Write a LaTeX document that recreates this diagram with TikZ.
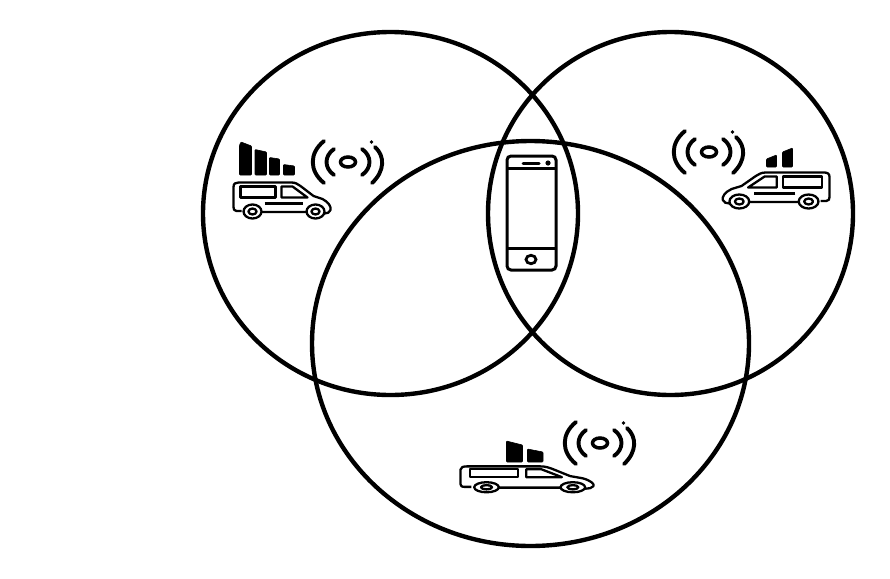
\documentclass[tikz,border=0pt]{standalone}
\tikzset{
  ring/.style={draw=black,line width=4.4pt},
  wave/.style={draw=black,line width=3.9pt,line cap=round},
  bar/.style={fill=black,draw=black,line width=.6pt,rounded corners=.8pt},
  vanline/.style={draw=black,line width=2.3pt,line join=round},
  phoneline/.style={draw=black,line width=3pt},
  signal/.pic={
    \draw[line width=3.5pt] (0,0) ellipse (7.5pt and 5pt);
    \draw[wave] (-14,-13) .. controls (-24,-6) and (-24,6) .. (-14,13);
    \draw[wave] (14,-13) .. controls (24,-6) and (24,6) .. (14,13);
    \draw[wave] (-24,-21) .. controls (-39,-9) and (-39,9) .. (-24,21);
    \draw[wave] (27,-15) .. controls (37,-6) and (37,9) .. (24,21);
    \fill (23.5,-20) circle (1.9pt);
  },
  van/.pic={
    \draw[vanline] (8,29) -- (3,29) .. controls (0.5,29) and (0,27) .. (0,25)
      -- (0,5) .. controls (0,1.5) and (2,0.5) .. (5,0.5) -- (58,0.5)
      .. controls (62,0.5) and (64,2) .. (67,4) -- (80,14) -- (89,17)
      .. controls (95,20) and (98,25) .. (97,28) .. controls (96,31) and (94,31) .. (91,31.5)
      (73,30) -- (28,30);
    \draw[vanline] (7,4.5) rectangle (42,15.5);
    \draw[vanline] (48,4.5) -- (59,4.5) -- (74,15.5) -- (48,15.5) -- cycle;
    \draw[vanline] (19,29.5) circle[x radius=9,y radius=7];
    \draw[vanline] (19,29.5) circle[x radius=4,y radius=3];
    \draw[vanline] (82,29.5) circle[x radius=9,y radius=7];
    \draw[vanline] (82,29.5) circle[x radius=4,y radius=3];
  },
  vanmid/.pic={
    \draw[vanline] (31,21.5) -- (69,21.5);
  }
}
\begin{document}
\begin{tikzpicture}[x=1pt,y=-1pt]
\useasboundingbox (0,0) rectangle (890,578);
\fill[white] (0,0) rectangle (890,578);
% coverage circles
\draw[ring] (390.5,213.5) ellipse (187.5pt and 181.5pt);
\draw[ring] (670.5,213.5) ellipse (182.5pt and 181.5pt);
\draw[ring] (530.5,343.5) ellipse (218.5pt and 202.5pt);
% phone
\draw[phoneline,rounded corners=4pt] (507,156) rectangle (556,270);
\draw[phoneline] (507,168.5) -- (556,168.5) (507,248) -- (556,248);
\draw[line width=3pt,line cap=round] (523,163) -- (539,163);
\fill (548,163) circle (2.6pt);
\draw[line width=2.8pt] (531,259.5) ellipse (5pt and 4.2pt);
% left van
\pic at (348,162) {signal};
\pic at (233.5,182) {van};
\pic at (233.5,182) {vanmid};
\fill[bar] (239.5,145) -- (241,142) -- (251.5,146) -- (251.5,175) -- (239.5,175) -- cycle;
\fill[bar] (255,149.5) -- (266.5,152) -- (266.5,175) -- (255,175) -- cycle;
\fill[bar] (269.5,157.5) -- (279.5,159) -- (279.5,175) -- (269.5,175) -- cycle;
\fill[bar] (283.5,164.5) -- (294.5,166) -- (294.5,175) -- (283.5,175) -- cycle;
% right van
\pic at (709,152) {signal};
\pic[xscale=-1.1,yscale=1] at (829.5,172) {van};
\pic[xscale=-1.1,yscale=1] at (829.5,172) {vanmid};
\fill[bar] (766.5,159) -- (776.5,155) -- (776.5,167) -- (766.5,167) -- cycle;
\fill[bar] (782.5,152) -- (792.5,148) -- (792.5,167) -- (782.5,167) -- cycle;
% bottom van
\pic at (600,443) {signal};
\pic[xscale=1.37,yscale=.72] at (460.5,466) {van};
\fill[bar] (506.5,441) -- (522.5,445) -- (522.5,462) -- (506.5,462) -- cycle;
\fill[bar] (527.5,449) -- (543,452) -- (543,462) -- (527.5,462) -- cycle;
\end{tikzpicture}
\end{document}
